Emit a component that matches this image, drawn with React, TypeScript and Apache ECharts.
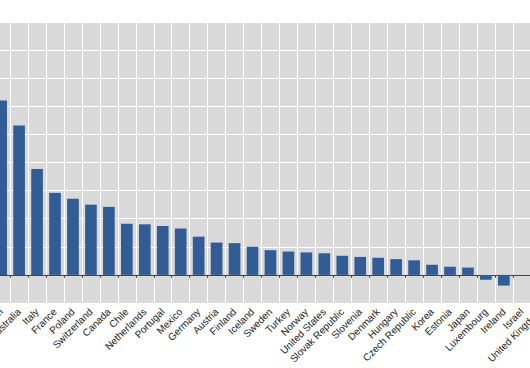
import React, { useEffect, useRef } from "react";
import * as echarts from "echarts";

const countries = [
  "Belgium", "Australia", "Italy", "France", "Poland", "Switzerland", "Canada", "Chile",
  "Netherlands", "Portugal", "Mexico", "Germany", "Austria", "Finland", "Iceland",
  "Sweden", "Turkey", "Norway", "United States", "Slovak Republic", "Slovenia",
  "Denmark", "Hungary", "Czech Republic", "Korea", "Estonia", "Japan", "Luxembourg",
  "Ireland", "Israel", "United Kingdom",
];

const values = [
  6.21, 5.32, 3.77, 2.92, 2.71, 2.5, 2.42, 1.82,
  1.8, 1.74, 1.65, 1.36, 1.15, 1.13, 1.0,
  0.88, 0.83, 0.8, 0.77, 0.68, 0.64,
  0.61, 0.56, 0.52, 0.36, 0.29, 0.26, -0.17,
  -0.38, 0, 0,
];

const yMin = -1;
const yMax = 9;
const yStep = 1;

export default function App() {
  const ref = useRef<HTMLDivElement>(null);
  useEffect(() => {
    if (!ref.current) return;
    const chart = echarts.init(ref.current, undefined, { renderer: "svg" });
    chart.setOption({
      animation: false,
      grid: {
        left: 19.25,
        right: 21.25,
        top: 22,
        bottom: 65,
        show: true,
        backgroundColor: "#d9d9d9",
        borderWidth: 0,
      },
      xAxis: [
        {
          type: "category",
          data: countries,
          position: "bottom",
          axisLine: { show: false, onZero: false },
          axisTick: { show: false },
          splitLine: { show: true, interval: 0, lineStyle: { color: "#ffffff", width: 1 } },
          axisLabel: {
            interval: 0,
            rotate: 45,
            margin: 7,
            fontSize: 10,
            fontFamily: "'Liberation Sans', Arial, sans-serif",
            color: "#222222",
          },
        },
        {
          type: "category",
          data: countries,
          position: "bottom",
          axisLine: { show: true, onZero: true, lineStyle: { color: "#444444", width: 1 } },
          axisTick: { show: true, interval: 0, length: 3, lineStyle: { color: "#444444" } },
          axisLabel: { show: false },
          splitLine: { show: false },
        },
      ],
      yAxis: {
        type: "value",
        min: yMin,
        max: yMax,
        interval: yStep,
        axisLine: { show: false },
        axisTick: { show: false },
        axisLabel: { show: false },
        splitLine: { show: true, lineStyle: { color: "#ffffff", width: 1 } },
      },
      series: [
        {
          type: "bar",
          data: values,
          xAxisIndex: 0,
          barWidth: "65%",
          itemStyle: { color: "#325c96" },
        },
      ],
    });
    return () => chart.dispose();
  }, []);
  return (
    <div style={{ position: "fixed", left: 0, top: 0, width: 530, height: 368, overflow: "hidden", background: "#fff" }}>
      <div ref={ref} style={{ position: "absolute", left: -30, top: 0, width: 600, height: 368 }} />
    </div>
  );
}
